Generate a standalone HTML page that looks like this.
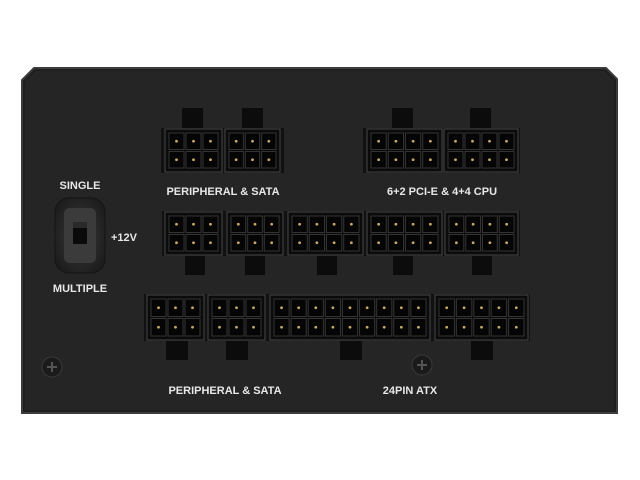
<!DOCTYPE html>
<html><head><meta charset="utf-8"><style>
html,body{margin:0;padding:0;background:#fff;width:640px;height:480px;overflow:hidden}
svg{display:block}
text{font-family:"Liberation Sans",sans-serif;font-weight:bold;fill:#e8e8e8;font-size:11px}
</style></head><body>
<svg id="s" width="640" height="480" viewBox="0 0 640 480" xmlns="http://www.w3.org/2000/svg">
<defs>
<radialGradient id="sw" cx="50%" cy="50%" r="60%"><stop offset="0" stop-color="#3a3a3a"/><stop offset="1" stop-color="#1c1c1c"/></radialGradient>
</defs>
<polygon points="34,68 606,68 617,79 617,413 22,413 22,80" fill="#1f1f1f" stroke="#3c3c3c" stroke-width="2"/>
<polygon points="36,71 604,71 614,81 614,410 25,410 25,82" fill="#252525"/>
<rect x="55" y="198" width="50" height="75" rx="14" fill="url(#sw)" stroke="#151515"/>
<rect x="64" y="208" width="32" height="55" rx="6" fill="#3b3b3b"/>
<rect x="73" y="222" width="14" height="22" fill="#0a0a0a"/>
<rect x="73" y="222" width="14" height="6" fill="#2a2a2a"/>
<text x="80" y="189" text-anchor="middle">SINGLE</text>
<text x="80" y="292" text-anchor="middle">MULTIPLE</text>
<text x="124" y="241" text-anchor="middle">+12V</text>
<text x="223" y="195" text-anchor="middle" font-size="10.5">PERIPHERAL &amp; SATA</text>
<text x="442" y="195" text-anchor="middle" font-size="10.5">6+2 PCI-E &amp; 4+4 CPU</text>
<text x="225" y="394" text-anchor="middle" font-size="10.5">PERIPHERAL &amp; SATA</text>
<text x="410" y="394" text-anchor="middle" font-size="10.5">24PIN ATX</text>
<g id="c"></g>
</svg>
<script>
var g=document.getElementById('c'),ns='http://www.w3.org/2000/svg',h='';
function r(x,y,w,hh,f,s){h+='<rect x="'+x+'" y="'+y+'" width="'+w+'" height="'+hh+'" fill="'+f+'"'+(s?' stroke="'+s+'"':'')+'/>';}
function conn(x,y,w,hh,cols){r(x,y,w,hh,'#0b0b0b','#474747');var cw=(w-6)/cols,ch=(hh-6)/2;
for(var i=0;i<cols;i++)for(var j=0;j<2;j++){var cx=x+3+i*cw,cy=y+3+j*ch;r(cx+1,cy+1,cw-2,ch-2,'#050505','#333');
h+='<circle cx="'+(cx+cw/2)+'" cy="'+(cy+ch/2)+'" r="1.4" fill="#c8aa66"/>';}}
// tabs
[[182,108],[242,108],[392,108],[470,108]].forEach(function(t){r(t[0],t[1],21,21,'#0c0c0c');});
[195,255,327,403,482].forEach(function(c){r(c-10,254,20,21,'#0c0c0c');});
[177,237,351,482].forEach(function(c){r(c-11,339,22,21,'#0c0c0c');});
// frames
r(161,128,123,45,'#111');r(363,128,157,45,'#111');r(162,211,358,45,'#111');r(144,294,386,47,'#111');
conn(165,129,57,43,3);conn(225,129,55,43,3);
conn(367,129,75,43,4);conn(444,129,74,43,4);
conn(165,212,57,43,3);conn(227,212,56,43,3);conn(288,212,75,43,4);conn(367,212,75,43,4);conn(445,212,73,43,4);
conn(147,295,57,45,3);conn(208,295,57,45,3);conn(270,295,160,45,9);conn(435,295,93,45,5);
// screws
[[52,367],[422,365]].forEach(function(p){h+='<circle cx="'+p[0]+'" cy="'+p[1]+'" r="10" fill="#1a1a1a" stroke="#3a3a3a"/><path d="M'+(p[0]-5)+' '+p[1]+'h10M'+p[0]+' '+(p[1]-5)+'v10" stroke="#555" stroke-width="2"/>';});
g.innerHTML=h;
</script>
</body></html>
